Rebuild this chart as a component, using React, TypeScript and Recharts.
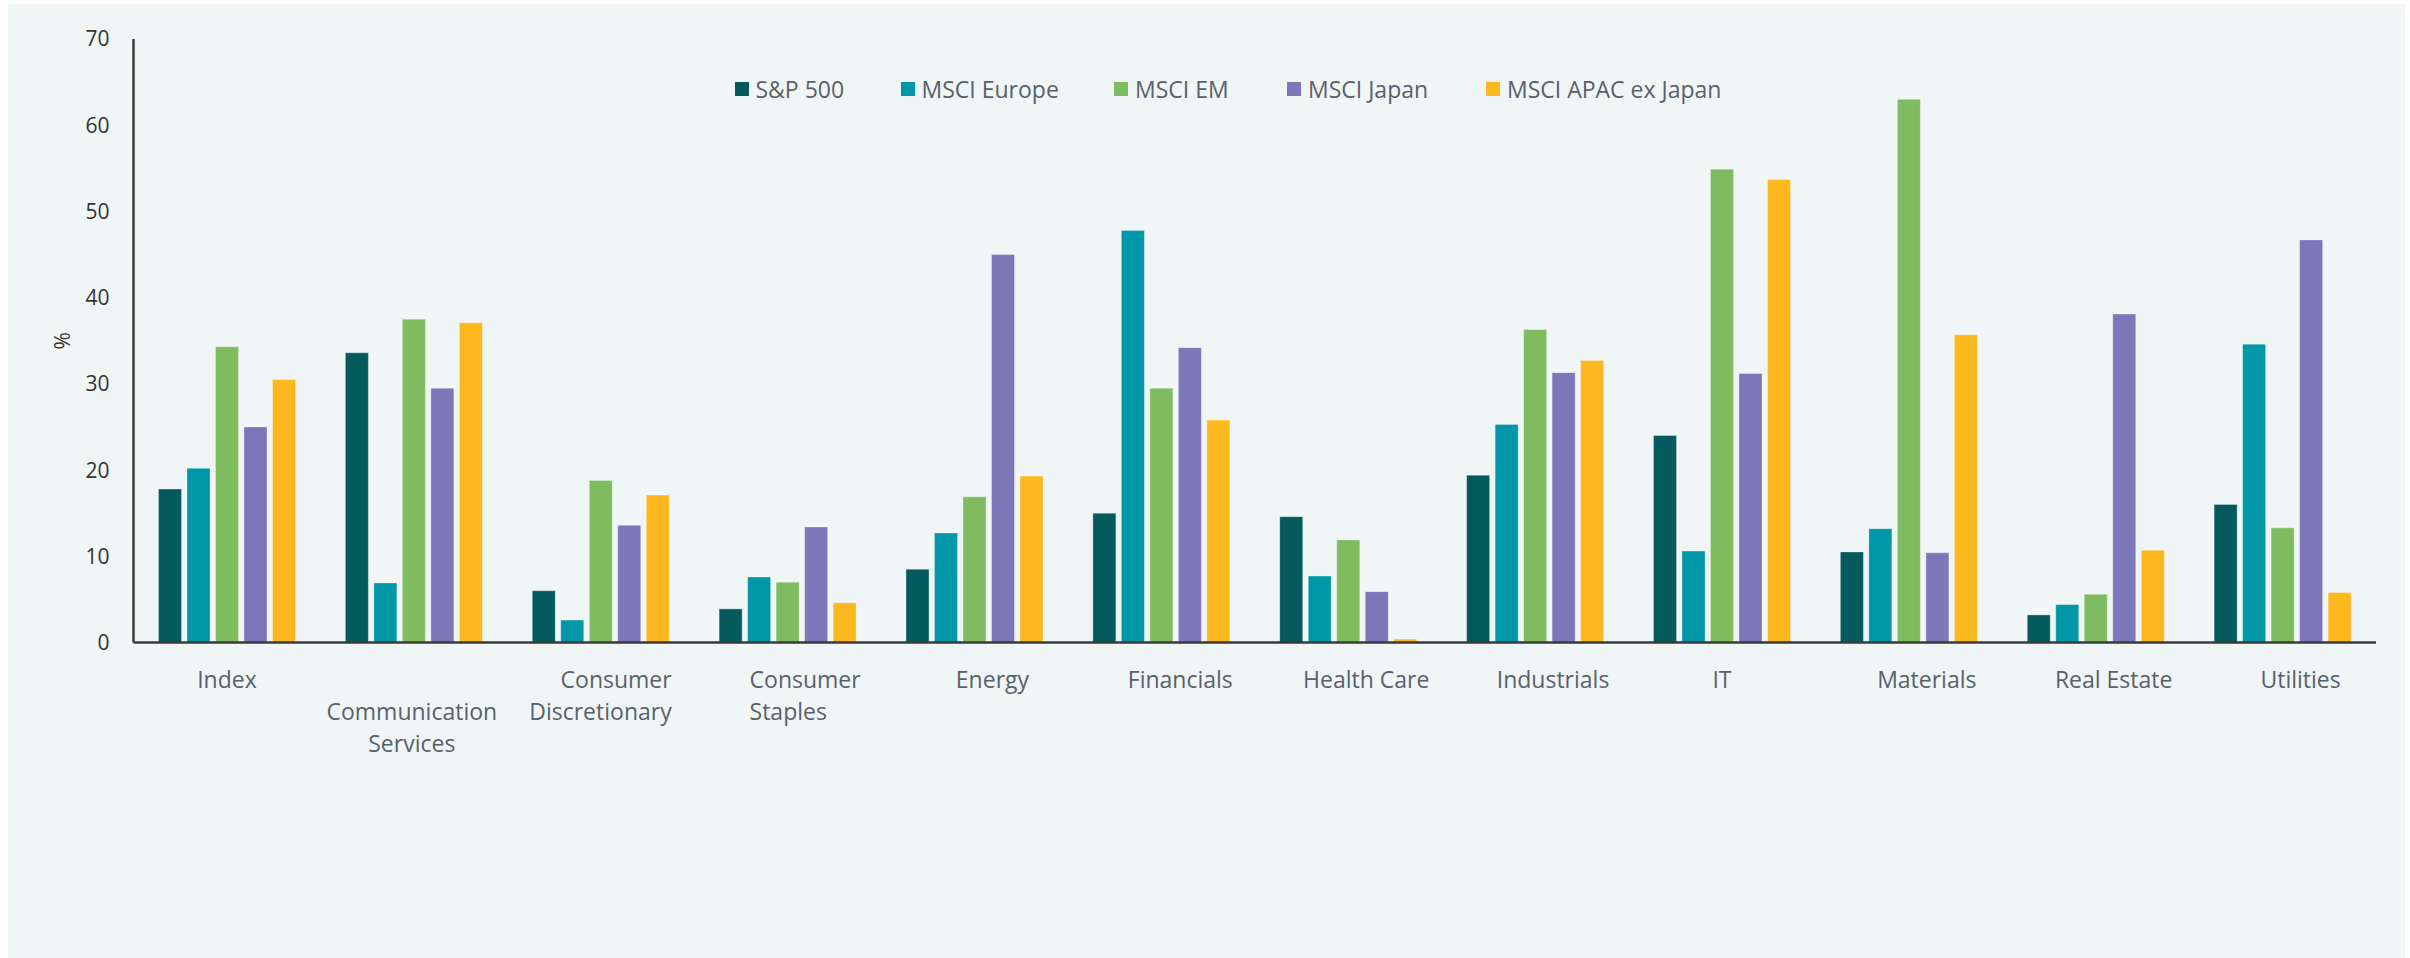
import React from 'react';
import { BarChart, Bar, XAxis, YAxis, Legend, Label } from 'recharts';

// Sector categories along the x axis
const sectors = [
  'Index',
  'Communication Services',
  'Consumer Discretionary',
  'Consumer Staples',
  'Energy',
  'Financials',
  'Health Care',
  'Industrials',
  'IT',
  'Materials',
  'Real Estate',
  'Utilities',
];

// Values in % for each regional index, one per sector
const sp500 = [17.8, 33.6, 6.0, 3.9, 8.5, 15.0, 14.6, 19.4, 24.0, 10.5, 3.2, 16.0];
const msciEurope = [20.2, 6.9, 2.6, 7.6, 12.7, 47.8, 7.7, 25.3, 10.6, 13.2, 4.4, 34.6];
const msciEM = [34.3, 37.5, 18.8, 7.0, 16.9, 29.5, 11.9, 36.3, 54.9, 63.0, 5.6, 13.3];
const msciJapan = [25.0, 29.5, 13.6, 13.4, 45.0, 34.2, 5.9, 31.3, 31.2, 10.4, 38.1, 46.7];
const msciApacExJapan = [30.5, 37.1, 17.1, 4.6, 19.3, 25.8, 0.4, 32.7, 53.7, 35.7, 10.7, 5.8];

const yTicks = [0, 10, 20, 30, 40, 50, 60, 70];

const data = sectors.map((sector, i) => ({
  sector,
  sp500: sp500[i],
  europe: msciEurope[i],
  em: msciEM[i],
  japan: msciJapan[i],
  apac: msciApacExJapan[i],
}));

const SERIES = [
  { key: 'sp500', name: 'S&P 500', color: '#055A5E' },
  { key: 'europe', name: 'MSCI Europe', color: '#0097A8' },
  { key: 'em', name: 'MSCI EM', color: '#7FBC5F' },
  { key: 'japan', name: 'MSCI Japan', color: '#7C77B9' },
  { key: 'apac', name: 'MSCI APAC ex Japan', color: '#FDB71F' },
];

const FONT = '"Open Sans", "DejaVu Sans", sans-serif';
const LABEL_COLOR = '#58616B';
const AXIS_COLOR = '#3A3A3A';

// How each sector name is split into lines, which row it starts on, and line alignment
type Line = { text: string; anchor: 'start' | 'middle' | 'end'; dx: number };
const TICK_LAYOUT: Record<string, { row: number; lines: Line[] }> = {
  Index: { row: 0, lines: [{ text: 'Index', anchor: 'middle', dx: 0 }] },
  'Communication Services': {
    row: 1,
    lines: [
      { text: 'Communication', anchor: 'middle', dx: -2 },
      { text: 'Services', anchor: 'middle', dx: -2 },
    ],
  },
  'Consumer Discretionary': {
    row: 0,
    lines: [
      { text: 'Consumer', anchor: 'end', dx: 71 },
      { text: 'Discretionary', anchor: 'end', dx: 71 },
    ],
  },
  'Consumer Staples': {
    row: 0,
    lines: [
      { text: 'Consumer', anchor: 'start', dx: -38 },
      { text: 'Staples', anchor: 'start', dx: -38 },
    ],
  },
  Energy: { row: 0, lines: [{ text: 'Energy', anchor: 'middle', dx: 18 }] },
  Financials: { row: 0, lines: [{ text: 'Financials', anchor: 'middle', dx: 19 }] },
  'Health Care': { row: 0, lines: [{ text: 'Health Care', anchor: 'middle', dx: 18 }] },
  Industrials: { row: 0, lines: [{ text: 'Industrials', anchor: 'middle', dx: 18 }] },
  IT: { row: 0, lines: [{ text: 'IT', anchor: 'middle', dx: 0 }] },
  Materials: { row: 0, lines: [{ text: 'Materials', anchor: 'middle', dx: 18 }] },
  'Real Estate': { row: 0, lines: [{ text: 'Real Estate', anchor: 'middle', dx: 18 }] },
  Utilities: { row: 0, lines: [{ text: 'Utilities', anchor: 'middle', dx: 18 }] },
};

const SectorTick = (props: any) => {
  const { x, y, payload } = props;
  const layout = TICK_LAYOUT[payload.value] || {
    row: 0,
    lines: [{ text: String(payload.value), anchor: 'middle', dx: 0 }],
  };
  return (
    <g>
      {layout.lines.map((ln, i) => (
        <text
          key={i}
          x={x + ln.dx}
          y={y + 36 + (layout.row + i) * 32}
          textAnchor={ln.anchor}
          dominantBaseline="central"
          fill={LABEL_COLOR}
          fontSize={23}
          fontFamily={FONT}
        >
          {ln.text}
        </text>
      ))}
    </g>
  );
};

// Fixed slot widths keep the legend swatches evenly placed
const LEGEND_SLOTS = [166, 213.5, 173, 199, undefined];

const renderLegend = () => (
  <div style={{ display: 'flex', alignItems: 'center', height: 28, whiteSpace: 'nowrap' }}>
    {SERIES.map((s, i) => (
      <div
        key={s.key}
        style={{ display: 'flex', alignItems: 'center', width: LEGEND_SLOTS[i], flex: 'none' }}
      >
        <span style={{ width: 14, height: 14, background: s.color, display: 'inline-block', marginRight: 7 }} />
        <span style={{ fontFamily: FONT, fontSize: 23, color: LABEL_COLOR, lineHeight: '28px' }}>{s.name}</span>
      </div>
    ))}
  </div>
);

const PercentLabel = (props: any) => {
  const { viewBox } = props;
  const cx = viewBox.x + 54;
  const cy = viewBox.y + viewBox.height / 2;
  return (
    <text
      x={cx}
      y={cy}
      transform={`rotate(-90, ${cx}, ${cy})`}
      textAnchor="middle"
      dominantBaseline="central"
      fill="#333333"
      fontSize={21}
      fontFamily={FONT}
    >
      %
    </text>
  );
};

export default function App() {
  return (
    <div
      style={{
        position: 'absolute',
        left: 8,
        top: 4,
        width: 2397,
        height: 954,
        background: '#F0F6F6',
      }}
    >
      <BarChart
        width={2397}
        height={954}
        data={data}
        margin={{ top: 35, right: 29, left: 0, bottom: 195.5 }}
        barSize={23}
        barGap={5.5}
      >
        <XAxis
          dataKey="sector"
          interval={0}
          height={120}
          tickLine={false}
          tickSize={0}
          tickMargin={0}
          axisLine={{ stroke: AXIS_COLOR, strokeWidth: 2.5 }}
          tick={<SectorTick />}
        />
        <YAxis
          width={125.5}
          domain={[0, 70]}
          ticks={yTicks}
          interval={0}
          tickLine={false}
          tickSize={0}
          tickMargin={24}
          axisLine={{ stroke: AXIS_COLOR, strokeWidth: 2.5 }}
          tick={{ fill: '#333333', fontSize: 21, fontFamily: FONT }}
        >
          <Label content={<PercentLabel />} />
        </YAxis>
        <Legend
          verticalAlign="middle"
          align="center"
          layout="horizontal"
          wrapperStyle={{ top: 71, left: 726.5, width: 'auto', height: 28 }}
          content={renderLegend}
        />
        {SERIES.map((s) => (
          <Bar
            key={s.key}
            dataKey={s.key}
            name={s.name}
            fill={s.color}
            stroke="#ffffff"
            strokeOpacity={0.3}
            strokeWidth={1}
            isAnimationActive={false}
          />
        ))}
      </BarChart>
    </div>
  );
}
